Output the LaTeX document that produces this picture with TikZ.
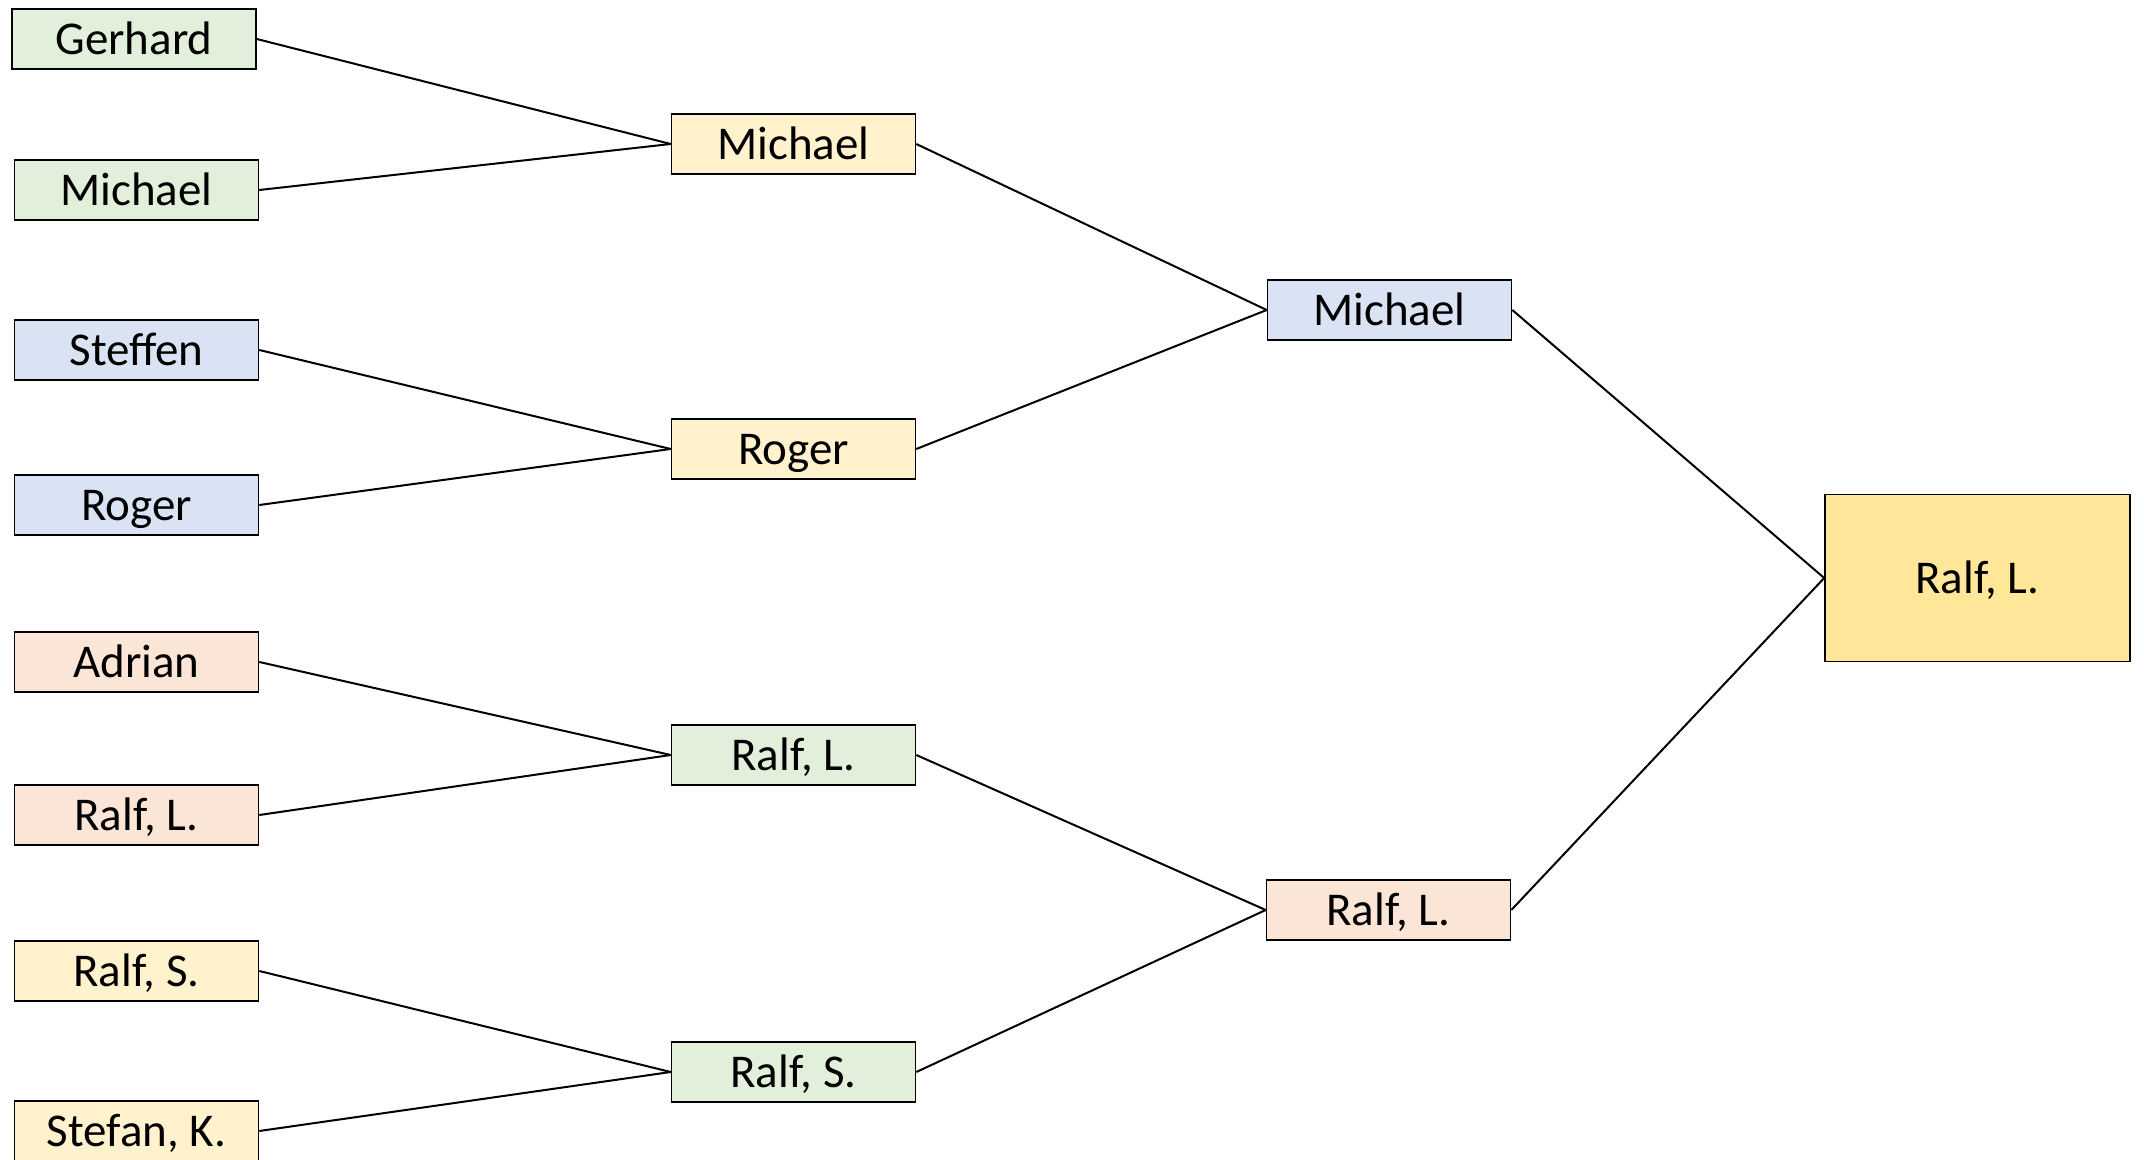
\documentclass[tikz,border=0pt]{standalone}
\usepackage{fontspec}
\setmainfont{Carlito}
\definecolor{cgreen}{HTML}{E2EFDA}
\definecolor{cyellow}{HTML}{FFF2CC}
\definecolor{cblue}{HTML}{DAE3F3}
\definecolor{cpeach}{HTML}{FBE5D6}
\definecolor{cgold}{HTML}{FFE699}
\begin{document}
\begin{tikzpicture}[x=0.5pt,y=-0.5pt,
  box/.style={draw=black,line width=0.8pt,inner sep=0pt,minimum width=122pt,minimum height=30pt,text height=15.2pt,text depth=0pt,font=\fontsize{23.5}{28}\selectfont},
  finalbox/.style={box,minimum width=152.5pt,minimum height=83.5pt},
  link/.style={draw=black,line width=1pt}]
\useasboundingbox (0,0) rectangle (2144,1160);
% level 1
\node[box,fill=cgreen]  (a1) at (134,39)   {Gerhard};
\node[box,fill=cgreen]  (a2) at (136.5,190) {Michael};
\node[box,fill=cblue]   (a3) at (136.5,350) {Steffen};
\node[box,fill=cblue]   (a4) at (136.5,505) {Roger};
\node[box,fill=cpeach]  (a5) at (136.5,662) {Adrian};
\node[box,fill=cpeach]  (a6) at (136.5,815) {Ralf, L.};
\node[box,fill=cyellow] (a7) at (136.5,971) {Ralf, S.};
\node[box,fill=cyellow] (a8) at (136.5,1131) {Stefan, K.};
% level 2
\node[box,fill=cyellow] (b1) at (793.5,144) {Michael};
\node[box,fill=cyellow] (b2) at (793.5,449) {Roger};
\node[box,fill=cgreen]  (b3) at (793.5,755) {Ralf, L.};
\node[box,fill=cgreen]  (b4) at (793.5,1072) {Ralf, S.};
% level 3
\node[box,fill=cblue]   (c1) at (1389.5,310) {Michael};
\node[box,fill=cpeach]  (c2) at (1388.5,910) {Ralf, L.};
% final
\node[finalbox,fill=cgold] (d1) at (1977.5,578) {Ralf, L.};
% connectors
\draw[link] (a1.east) -- (b1.west);
\draw[link] (a2.east) -- (b1.west);
\draw[link] (a3.east) -- (b2.west);
\draw[link] (a4.east) -- (b2.west);
\draw[link] (a5.east) -- (b3.west);
\draw[link] (a6.east) -- (b3.west);
\draw[link] (a7.east) -- (b4.west);
\draw[link] (a8.east) -- (b4.west);
\draw[link] (b1.east) -- (c1.west);
\draw[link] (b2.east) -- (c1.west);
\draw[link] (b3.east) -- (c2.west);
\draw[link] (b4.east) -- (c2.west);
\draw[link] (c1.east) -- (d1.west);
\draw[link] (c2.east) -- (d1.west);
\end{tikzpicture}
\end{document}
